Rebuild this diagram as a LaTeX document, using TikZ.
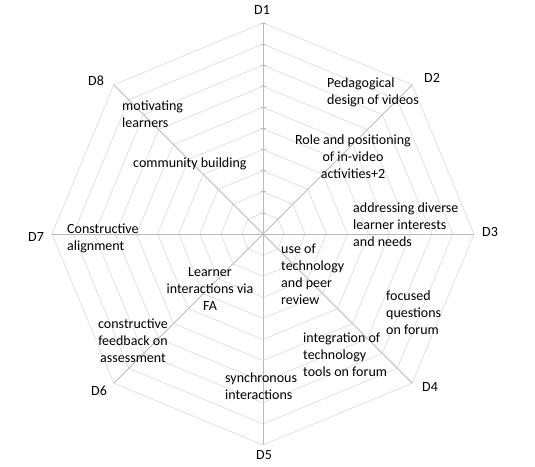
\documentclass[tikz,border=0pt]{standalone}
\usepackage{fontspec}
\setmainfont{Carlito}
\usetikzlibrary{calc}
\begin{document}
\begin{tikzpicture}[x=1pt,y=1pt,
  gridline/.style={draw=black!15, line width=0.6pt},
  axisline/.style={draw=black!27, line width=0.8pt},
  dlabel/.style={font=\fontsize{14}{17}\selectfont, inner sep=0pt, anchor=center},
  txt/.style={font=\fontsize{14}{17}\selectfont, inner sep=0pt, execute at begin node=\rule{0pt}{10pt}},
  txtl/.style={txt, align=left, anchor=north west},
  txtc/.style={txt, align=center, anchor=north}]
\useasboundingbox (0,0) rectangle (535,-466);
\coordinate (c) at (263,-234);
% grid octagons
\foreach \k in {1,...,10}{
  \draw[gridline] ($(c)+(90:21.1*\k)$) -- ($(c)+(45:21.1*\k)$) -- ($(c)+(0:21.1*\k)$) -- ($(c)+(-45:21.1*\k)$) -- ($(c)+(-90:21.1*\k)$) -- ($(c)+(-135:21.1*\k)$) -- ($(c)+(180:21.1*\k)$) -- ($(c)+(135:21.1*\k)$) -- cycle;
}
% axis ends
\foreach \i/\a in {1/90,2/45,3/0,4/-45,5/-90,6/-135,7/180,8/135}{
  \coordinate (a\i) at ($(c)+(\a:211)$);
}
\foreach \i in {1,...,8}{ \draw[axisline] (c) -- (a\i); }
% ticks on D1 axis
\foreach \k in {1,...,10}{
  \draw[axisline] ($(c)+(-2.5,21.1*\k)$) -- ($(c)+(2.5,21.1*\k)$);
}
% D labels
\node[dlabel] (d1) at (262,-10) {D1};
\node[dlabel] (d2) at (432,-78) {D2};
\node[dlabel] (d3) at (490,-232) {D3};
\node[dlabel] (d4) at (430,-387) {D4};
\node[dlabel] (d5) at (264,-455) {D5};
\node[dlabel] (d6) at (99,-391) {D6};
\node[dlabel] (d7) at (36,-237) {D7};
\node[dlabel] (d8) at (96,-81) {D8};
% texts
\node[txtl] (t1) at (327,-77.5) {Pedagogical\\design of videos};
\node[txtc] (t2) at (353,-134.5) {Role and positioning\\of in-video\\activities+2};
\node[txtl] (t3) at (353,-202.5) {addressing diverse\\learner interests\\and needs};
\node[txtl] (t4) at (281,-243.5) {use of\\technology\\and peer\\review};
\node[txtl] (t5) at (386,-290.5) {focused\\questions\\on forum};
\node[txtl] (t6) at (303,-332.5) {integration of\\technology\\tools on forum};
\node[txtl] (t7) at (225,-372.5) {synchronous\\interactions};
\node[txtc] (t8) at (133,-318.5) {constructive\\feedback on\\assessment};
\node[txtc] (t9) at (210,-267.5) {Learner\\interactions via\\FA};
\node[txtl] (t10) at (67,-223.5) {Constructive\\alignment};
\node[txtl] (t11) at (133,-157.5) {community building};
\node[txtl] (t12) at (122,-100.5) {motivating\\learners};
\end{tikzpicture}
\end{document}
